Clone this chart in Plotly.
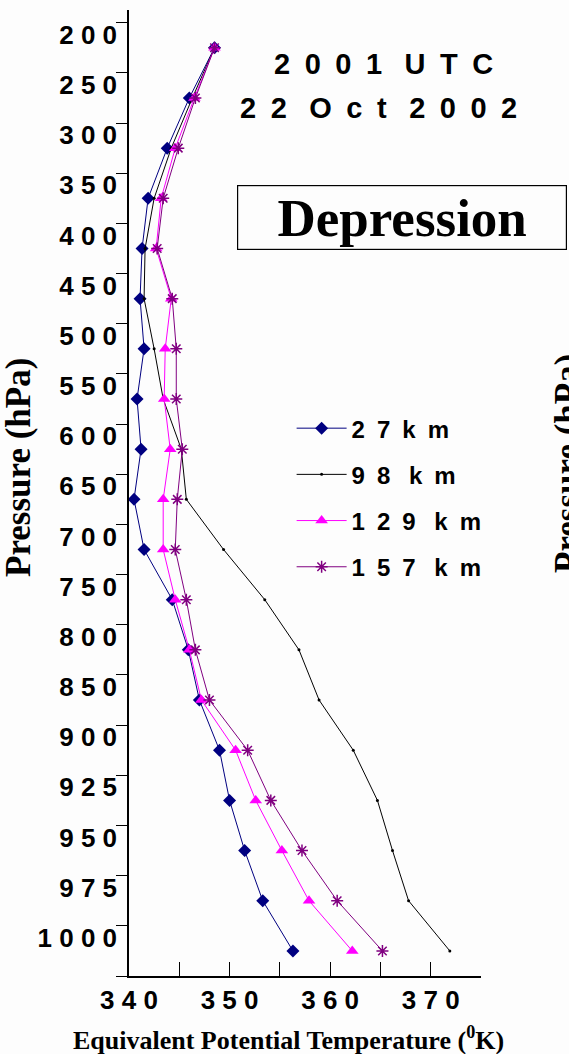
import plotly.graph_objects as go

# ---- data ----
levels = [200, 250, 300, 350, 400, 450, 500, 550, 600, 650, 700, 750, 800, 850,
          900, 925, 950, 975, 1000]
km27 = [348.5, 346.0, 343.8, 341.9, 341.3, 341.1, 341.5, 340.8, 341.2, 340.5,
        341.5, 344.3, 345.9, 347.0, 349.0, 350.0, 351.5, 353.3, 356.3]
km98 = [348.5, 346.3, 344.2, 342.5, 341.6, 341.5, 342.5, 343.4, 345.2, 345.7,
        349.4, 353.5, 356.9, 358.9, 362.3, 364.7, 366.2, 367.8, 371.9]
km129 = [348.5, 346.5, 344.6, 343.2, 342.7, 344.2, 343.6, 343.5, 344.1, 343.4,
         343.4, 344.6, 346.0, 347.2, 350.6, 352.6, 355.2, 357.9, 362.2]
km157 = [348.5, 346.6, 344.9, 343.4, 342.8, 344.3, 344.7, 344.7, 345.3, 344.8,
         344.6, 345.7, 346.6, 348.0, 351.8, 354.1, 357.2, 360.7, 365.2]
series_names = ["27km", "98 km", "129 km", "157 km"]
x_tickvals = [340, 345, 350, 355, 360, 365, 370, 375]
x_ticktext = ["340", "", "350", "", "360", "", "370", ""]
title_line1 = "2001 UTC"
title_line2 = "22 Oct 2002"
box_label = "Depression"
x_title = "Equivalent Potential Temperature (<sup>0</sup>K)"
y_title = "Pressure (hPa)"

EN = "\u2002"


def spaced(s, gap=EN, wordgap=EN + " "):
    return wordgap.join(gap.join(w) for w in s.split(" "))


def ticksp(s):
    return " ".join(s)


ycats = [str(p) for p in levels]
SANS = "Liberation Sans, Arial, sans-serif"
SERIF = "Liberation Serif, Times New Roman, serif"

fig = go.Figure()
styles = [
    dict(color="#000080", symbol="diamond", size=10, lw=1),
    dict(color="#000000", symbol="circle", size=3, lw=1),
    dict(color="#FF00FF", symbol="triangle-up", size=11, lw=1),
    dict(color="#800080", symbol="asterisk-open", size=10, lw=1),
]
for name, vals, st in zip(series_names, [km27, km98, km129, km157], styles):
    mk = dict(color=st["color"], symbol=st["symbol"], size=st["size"])
    if st["symbol"] == "asterisk-open":
        mk["line"] = dict(color=st["color"], width=1.5)
    fig.add_trace(go.Scatter(
        x=vals, y=ycats, mode="lines+markers", name=spaced(name),
        legendgroup=name,
        line=dict(color=st["color"], width=st["lw"]),
        marker=mk,
    ))

fig.update_layout(
    width=569, height=1054,
    margin=dict(l=129, r=88, t=10, b=78),
    paper_bgcolor="#fdfdfd", plot_bgcolor="#fdfdfd",
    showlegend=True,
    legend=dict(x=0.462, y=0.59, xanchor="left", yanchor="top",
                bgcolor="rgba(0,0,0,0)", tracegroupgap=12,
                itemwidth=50,
                font=dict(family=SANS, size=24, color="black", weight="bold")),
    xaxis=dict(range=[340, 375], tickvals=x_tickvals,
               ticktext=[ticksp(t) for t in x_ticktext],
               ticks="inside", ticklen=14, tickwidth=1, tickcolor="black",
               showline=True, linecolor="black", linewidth=1.5,
               showgrid=False, zeroline=False,
               tickfont=dict(family=SANS, size=26, color="black", weight="bold")),
    yaxis=dict(type="category", categoryorder="array", categoryarray=ycats,
               range=[18.5, -0.753], tickson="boundaries",
               tickvals=ycats, ticktext=[ticksp(t) for t in ycats],
               ticks="outside", ticklen=11, tickwidth=1, tickcolor="black",
               showline=True, linecolor="black", linewidth=1.5,
               showgrid=False, zeroline=False, ticklabelshift=13,
               ticklabelstandoff=5,
               tickfont=dict(family=SANS, size=26, color="black", weight="bold")),
)

PW, PH, L, T = 352, 966, 129, 10


def px(xp):
    return (xp - L) / PW


def py(yp):
    return (T + PH - yp) / PH


base = dict(xref="paper", yref="paper", showarrow=False,
            xanchor="center", yanchor="middle")
ann = []
ann.append(dict(base, text=spaced(title_line1), x=px(383), y=py(64),
                font=dict(family=SANS, size=29, color="black", weight="bold")))
ann.append(dict(base, text=spaced(title_line2), x=px(378), y=py(108),
                font=dict(family=SANS, size=29, color="black", weight="bold")))
ann.append(dict(base, text=box_label, x=px(402), y=py(217.5),
                width=326, height=61, borderpad=1, bordercolor="black", borderwidth=1.2,
                font=dict(family=SERIF, size=53, color="black", weight="bold")))
ann.append(dict(base, text=x_title, x=px(288), y=py(1038),
                font=dict(family=SERIF, size=26, color="black", weight="bold")))
ann.append(dict(base, text=y_title, textangle=-90, x=px(18), y=py(467),
                font=dict(family=SERIF, size=35, color="black", weight="bold")))
ann.append(dict(base, text=y_title, textangle=-90, x=px(568), y=py(464),
                font=dict(family=SERIF, size=35, color="black", weight="bold")))
fig.update_layout(annotations=ann)

fig.write_html("out.html")
